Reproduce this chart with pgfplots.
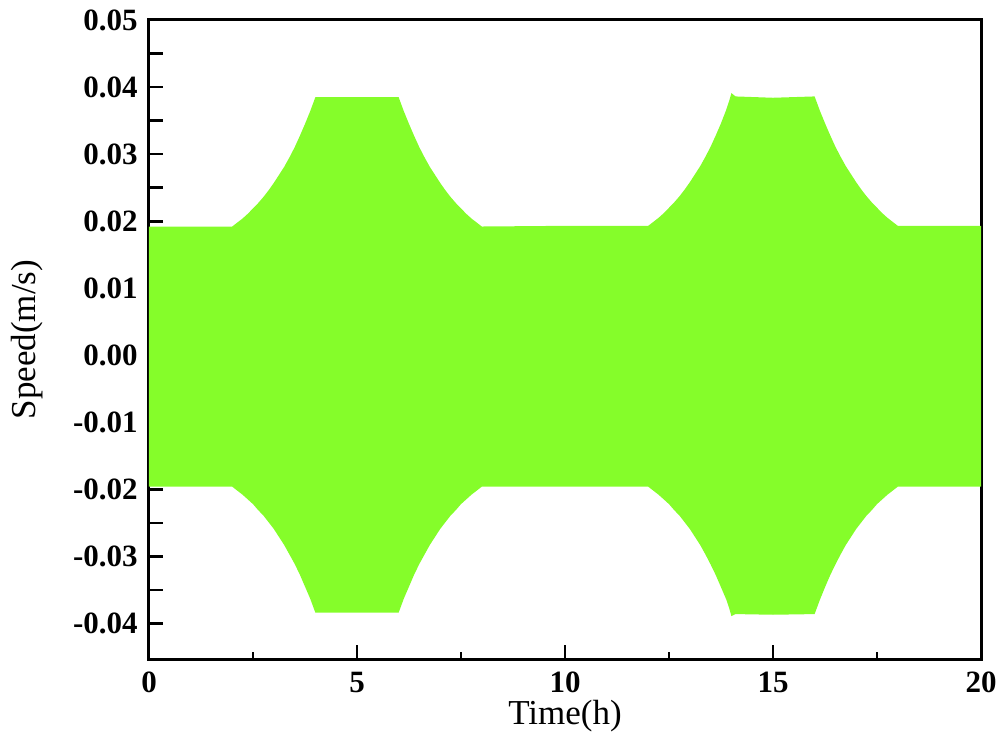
\documentclass[border=0pt]{standalone}
\usepackage{fontspec}
\setmainfont{Liberation Serif}
\usepackage{pgfplots}
\pgfplotsset{compat=1.18}
\definecolor{speedgreen}{RGB}{133,253,42}

\begin{document}
\begin{tikzpicture}
\begin{axis}[
    name=ax,
    scale only axis,
    width=332.8pt,
    height=255.6pt,
    xmin=0, xmax=20,
    ymin=-0.0453, ymax=0.05,
    scaled y ticks=false,
    axis line style={line width=1.2pt},
    tick style={line width=1.1pt, black},
    tick align=inside,
    xtick pos=left, ytick pos=left,
    major tick length=5.6pt,
    minor tick length=2.8pt,
    xtick={0,5,10,15,20},
    xticklabels={0,5,10,15,20},
    minor x tick num=1,
    ytick={-0.04,-0.035,-0.03,-0.025,-0.02,-0.015,-0.01,-0.005,0,0.005,0.01,0.015,0.02,0.025,0.03,0.035,0.04,0.045,0.05},
    yticklabels={-0.04,,-0.03,,-0.02,,-0.01,,0.00,,0.01,,0.02,,0.03,,0.04,,0.05},
    ticklabel style={font=\bfseries\fontsize{12.4}{13}\selectfont},
    xticklabel style={inner sep=1pt, yshift=-4pt},
    yticklabel style={xshift=-1pt},
    xlabel={Time(h)},
    ylabel={Speed(m/s)},
    label style={font=\fontsize{14}{15}\selectfont},
    xlabel style={at={(axis description cs:0.5,-0.09)}, anchor=center, inner sep=0pt},
    ylabel style={at={(axis description cs:-0.1466,0.5)}, anchor=center},
    clip=false,
]
% envelope of the dense oscillation: upper edge left to right, lower edge back
\addplot[fill=speedgreen, draw=none] coordinates {
    (0,0.0192) (2.0,0.0192) (2.125,0.0198) (2.25,0.0204) (2.375,0.0211) (2.5,0.0219)
    (2.625,0.0227) (2.75,0.0236) (2.875,0.0246) (3.0,0.0257) (3.125,0.0269)
    (3.25,0.0281) (3.375,0.0295) (3.5,0.0310) (3.625,0.0327) (3.75,0.0345)
    (3.875,0.0364) (4.0,0.0385)
    (6.0,0.0385) (6.125,0.0364) (6.25,0.0345) (6.375,0.0327) (6.5,0.0310)
    (6.625,0.0295) (6.75,0.0281) (6.875,0.0269) (7.0,0.0257) (7.125,0.0246)
    (7.25,0.0236) (7.375,0.0227) (7.5,0.0219) (7.625,0.0211) (7.75,0.0204)
    (7.875,0.0198) (8.0,0.0192)
    (10,0.0193) (12.0,0.0193) (12.125,0.0199) (12.25,0.0205) (12.375,0.0212)
    (12.5,0.0220) (12.625,0.0228) (12.75,0.0237) (12.875,0.0247) (13.0,0.0258)
    (13.125,0.0270) (13.25,0.0282) (13.375,0.0296) (13.5,0.0311) (13.625,0.0328)
    (13.75,0.0346) (13.875,0.0366) (13.95,0.0380) (14.0,0.0391) (14.1,0.0386)
    (15.0,0.0384) (16.0,0.0386) (16.125,0.0365) (16.25,0.0346) (16.375,0.0328)
    (16.5,0.0311) (16.625,0.0296) (16.75,0.0282) (16.875,0.0270) (17.0,0.0258)
    (17.125,0.0247) (17.25,0.0237) (17.375,0.0228) (17.5,0.0220) (17.625,0.0212)
    (17.75,0.0205) (17.875,0.0199) (18.0,0.0193) (20,0.0193)
    (20,-0.0196) (18.0,-0.0196) (17.875,-0.0202) (17.75,-0.0208) (17.625,-0.0215)
    (17.5,-0.0222) (17.375,-0.0231) (17.25,-0.0239) (17.125,-0.0249) (17.0,-0.0259)
    (16.875,-0.0271) (16.75,-0.0283) (16.625,-0.0297) (16.5,-0.0312) (16.375,-0.0328)
    (16.25,-0.0346) (16.125,-0.0365) (16.0,-0.0386) (15.0,-0.0387) (14.1,-0.0386)
    (14.0,-0.0389) (13.95,-0.0378) (13.875,-0.0364) (13.75,-0.0346) (13.625,-0.0328)
    (13.5,-0.0312) (13.375,-0.0297) (13.25,-0.0283) (13.125,-0.0271) (13.0,-0.0259)
    (12.875,-0.0249) (12.75,-0.0239) (12.625,-0.0231) (12.5,-0.0222) (12.375,-0.0215)
    (12.25,-0.0208) (12.125,-0.0202) (12.0,-0.0196) (10,-0.0196) (8.0,-0.0196)
    (7.875,-0.0202) (7.75,-0.0208) (7.625,-0.0215) (7.5,-0.0222) (7.375,-0.0231)
    (7.25,-0.0239) (7.125,-0.0249) (7.0,-0.0259) (6.875,-0.0271) (6.75,-0.0283)
    (6.625,-0.0297) (6.5,-0.0311) (6.375,-0.0327) (6.25,-0.0345) (6.125,-0.0363)
    (6.0,-0.0384) (4.0,-0.0384) (3.875,-0.0363) (3.75,-0.0345) (3.625,-0.0327)
    (3.5,-0.0311) (3.375,-0.0297) (3.25,-0.0283) (3.125,-0.0271) (3.0,-0.0259)
    (2.875,-0.0249) (2.75,-0.0239) (2.625,-0.0231) (2.5,-0.0222) (2.375,-0.0215)
    (2.25,-0.0208) (2.125,-0.0202) (2.0,-0.0196) (0,-0.0196)
} -- cycle;
\end{axis}
\path ([shift={(-59.6pt,-38pt)}]ax.south west) ([shift={(7.2pt,8pt)}]ax.north east);
\end{tikzpicture}
\end{document}
